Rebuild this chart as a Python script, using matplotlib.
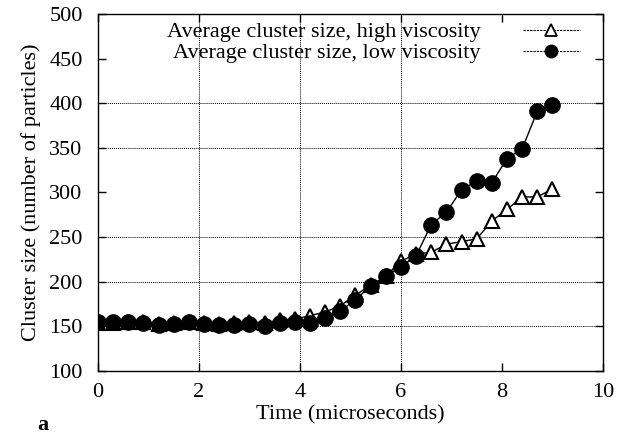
import numpy as np
import matplotlib.pyplot as plt
from matplotlib.lines import Line2D

plt.rcParams['font.family'] = ['Liberation Serif', 'DejaVu Serif']

# sampling times (microseconds)
time = np.round(np.arange(0, 9.01, 0.3), 1)

# average cluster size (number of particles)
high_visc = [154, 154, 155, 155, 153, 154, 155, 154, 153, 154, 155, 154, 157, 158,
             162, 166, 173, 185, 196, 206, 223, 231, 233, 242, 245, 248, 268, 281,
             295, 295, 304]
low_visc = [155, 155, 155, 154, 151, 153, 155, 153, 152, 152, 153, 150, 154, 155,
            154, 159, 167, 180, 195, 206, 217, 229, 264, 278, 303, 313, 311, 338,
            349, 391, 398]

labels = ['Average cluster size, high viscosity', 'Average cluster size, low viscosity']
grid_y = [150, 200, 250, 350, 400]
grid_x = [2, 4, 6]

fs = 16

fig = plt.figure(figsize=(6.32, 4.41), dpi=100)
ax = fig.add_axes([0.155, 0.159, 0.799, 0.809])

for g in grid_y:
    ax.axhline(g, color='black', lw=0.7, ls=(0, (1, 1)), zorder=0)
for g in grid_x:
    ax.axvline(g, color='black', lw=0.7, ls=(0, (1, 1)), zorder=0)

ax.plot(time, high_visc, '-^', color='black', lw=1, ms=10, mfc='white',
        mec='black', mew=1.5, zorder=2)
ax.plot(time, low_visc, '-o', color='black', lw=1, ms=11, mfc='black',
        mec='black', zorder=3)

ax.set_xlim(0, 10)
ax.set_ylim(100, 500)
ax.set_xticks(np.arange(0, 11, 2))
ax.set_yticks(np.arange(100, 501, 50))
ax.tick_params(direction='in', top=True, right=True, length=6, width=1,
               labelsize=fs)
ax.tick_params(axis='y', pad=11)
ax.tick_params(axis='x', pad=9)
for s in ax.spines.values():
    s.set_linewidth(1)

ax.set_xlabel('Time (microseconds)', fontsize=fs, labelpad=2)
ax.set_ylabel('Cluster size (number of particles)', fontsize=fs, labelpad=6)

handles = [
    Line2D([], [], color='black', lw=0.8, ls=(0, (2, 1)), marker='^', ms=8,
           mfc='white', mec='black', mew=1.3),
    Line2D([], [], color='black', lw=0.8, ls=(0, (2, 1)), marker='o', ms=9,
           mfc='black', mec='black'),
]
ax.legend(handles, labels, loc='upper right', bbox_to_anchor=(0.97, 1.0),
          markerfirst=False, frameon=False, fontsize=fs, handlelength=2.57,
          handletextpad=1.9, labelspacing=0.02, borderaxespad=0, borderpad=0.35)

fig.text(0.059, 0.025, 'a', fontsize=fs, fontweight='bold')

fig.savefig('out.png', dpi=100)
